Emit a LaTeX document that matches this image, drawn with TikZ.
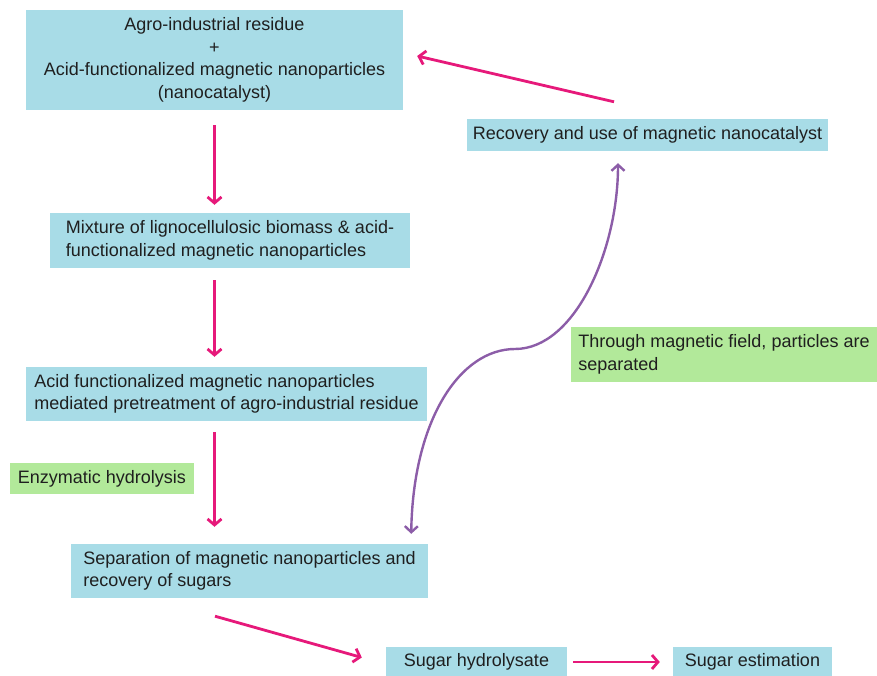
\documentclass[tikz,border=0pt]{standalone}
\usepackage{fontspec}
\setmainfont{Liberation Sans}
\usetikzlibrary{arrows.meta}
\definecolor{boxblue}{HTML}{A8DCE7}
\definecolor{notegreen}{HTML}{B2E99A}
\definecolor{flowpink}{HTML}{E6197A}
\definecolor{fieldviolet}{HTML}{8C5DA8}

\begin{document}
\begin{tikzpicture}[x=1pt,y=-1pt,
		every node/.style={font=\fontsize{18}{22.5}\selectfont,text=black!88},
		stage/.style={fill=boxblue,inner sep=0pt},
		note/.style={fill=notegreen,inner sep=0pt},
		flow/.style={draw=flowpink,line width=2.8pt,-{Straight Barb[length=6pt,width=14pt]}},
		magnet/.style={draw=fieldviolet,line width=2.4pt,{Straight Barb[length=6pt,width=13pt]}-{Straight Barb[length=6pt,width=13pt]}}]
		\useasboundingbox (0,0) rectangle (877,676);
		\node[stage,align=center,minimum width=377pt,minimum height=100pt] (residue) at (214.5,60)
			{Agro-industrial residue\\+\\Acid-functionalized magnetic nanoparticles\\(nanocatalyst)};
		\node[stage,minimum width=361pt,minimum height=32pt] (recovery) at (647.5,135)
			{Recovery and use of magnetic nanocatalyst};
		\node[stage,align=left,minimum width=360pt,minimum height=55pt] (mixture) at (230,240.5)
			{Mixture of lignocellulosic biomass \& acid-\\functionalized magnetic nanoparticles};
		\node[stage,align=left,minimum width=401pt,minimum height=54pt] (pretreat) at (226.5,394)
			{Acid functionalized magnetic nanoparticles\\mediated pretreatment of agro-industrial residue};
		\node[note,minimum width=184pt,minimum height=31pt] (enzyme) at (102,478.5)
			{Enzymatic hydrolysis};
		\node[stage,align=left,minimum width=357pt,minimum height=54pt] (separation) at (249.5,571)
			{Separation of magnetic nanoparticles and\\recovery of sugars};
		\node[note,align=left,minimum width=306pt,minimum height=55pt] (field) at (724,354.5)
			{Through magnetic field, particles are\\separated};
		\node[stage,minimum width=181pt,minimum height=30pt] (hydrolysate) at (476.5,662)
			{Sugar hydrolysate};
		\node[stage,minimum width=159pt,minimum height=30pt] (estimation) at (752.5,662)
			{Sugar estimation};

		\draw[flow,shorten <=15pt,shorten >=8pt] (residue.south) -- (residue.south |- mixture.north);
		\draw[flow,shorten <=12pt,shorten >=10pt] (residue.south |- mixture.south) -- (residue.south |- pretreat.north);
		\draw[flow,shorten <=11pt,shorten >=17pt] (residue.south |- pretreat.south) -- (residue.south |- separation.north);
		\draw[flow] ([xshift=-34.5pt,yshift=-18pt]separation.south) -- ([xshift=-24pt,yshift=4.5pt]hydrolysate.west);
		\draw[flow,shorten <=6pt,shorten >=13pt] (hydrolysate.east) -- (estimation.west);
		\draw[flow] ([xshift=-33.5pt,yshift=17pt]recovery.north) -- ([xshift=14pt,yshift=4pt]residue.east);
		\draw[magnet] ([xshift=-17pt,yshift=10pt]separation.north east)
			.. controls (413,420) and (460,349) .. (515,349)
			.. controls (575,349) and (618,250) .. ([xshift=-29.5pt,yshift=-12pt]recovery.south);
	\end{tikzpicture}
\end{document}
